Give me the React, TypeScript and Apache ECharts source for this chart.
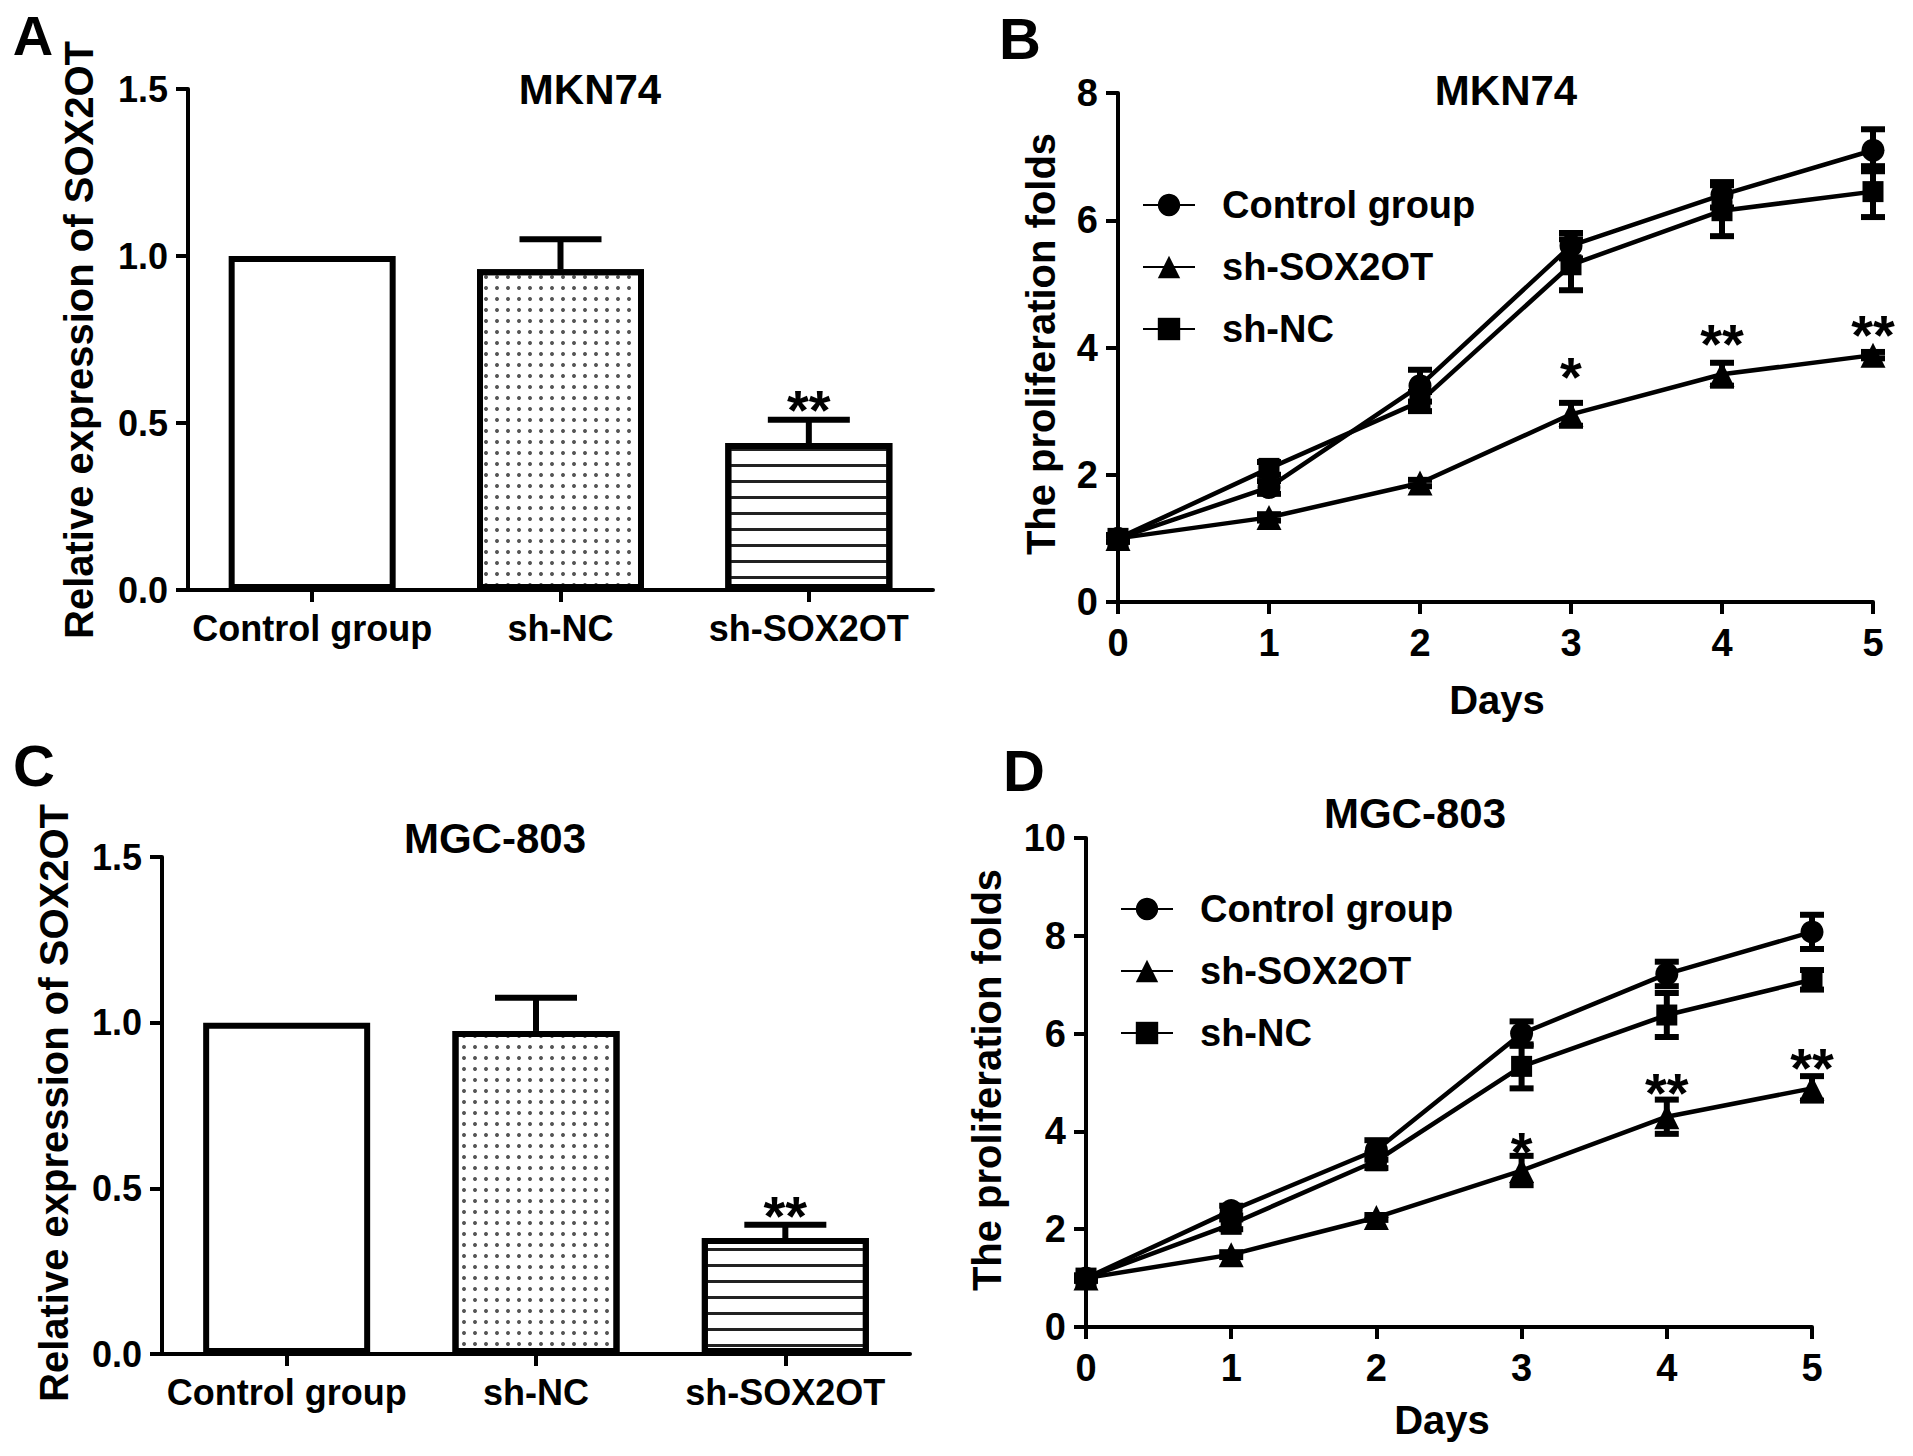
import React, { useEffect, useRef } from 'react'
import * as echarts from 'echarts'

const FONT = '"Liberation Sans", Arial, Helvetica, sans-serif'

// bar panels (A: MKN74, C: MGC-803)
const groups = ['Control group', 'sh-NC', 'sh-SOX2OT']
const exprA = [1.0, 0.96, 0.44]
const errA = [0, 0.09, 0.07]
const starA = ['', '', '**']
const starLevelA = [0, 0, 0.575]

const exprC = [1.0, 0.975, 0.35]
const errC = [0, 0.1, 0.04]
const starC = ['', '', '**']
const starLevelC = [0, 0, 0.455]

// line panels (B: MKN74, D: MGC-803)
const days = [0, 1, 2, 3, 4, 5]
const ctrlB = [1.0, 1.8, 3.4, 5.6, 6.4, 7.1]
const ctrlErrB = [0.05, 0.1, 0.25, 0.2, 0.2, 0.33]
const soxB = [1.0, 1.33, 1.87, 2.95, 3.58, 3.88]
const soxErrB = [0.05, 0.05, 0.05, 0.18, 0.18, 0.05]
const ncB = [1.0, 2.1, 3.15, 5.3, 6.15, 6.45]
const ncErrB = [0.05, 0.1, 0.15, 0.4, 0.4, 0.4]
const starB = ['', '', '', '*', '**', '**']
const starLevelB = [0, 0, 0, 3.73, 4.25, 4.4]

const ctrlD = [1.0, 2.38, 3.62, 6.0, 7.22, 8.08]
const ctrlErrD = [0.05, 0.1, 0.2, 0.25, 0.25, 0.35]
const soxD = [1.0, 1.48, 2.24, 3.2, 4.3, 4.88]
const soxErrD = [0.05, 0.05, 0.05, 0.3, 0.35, 0.25]
const ncD = [1.0, 2.1, 3.4, 5.33, 6.38, 7.1]
const ncErrD = [0.05, 0.1, 0.15, 0.45, 0.45, 0.2]
const starD = ['', '', '', '*', '**', '**']
const starLevelD = [0, 0, 0, 3.84, 5.05, 5.56]

const legendNames = ['Control group', 'sh-SOX2OT', 'sh-NC']

const dotDecal = {
  symbol: 'circle',
  symbolSize: 1,
  dashArrayX: [[3.5, 6.5]],
  dashArrayY: [3.5, 6.5],
  color: '#555',
  rotation: 0
}
const stripeDecal = {
  symbol: 'rect',
  symbolSize: 1,
  dashArrayX: [[60, 0]],
  dashArrayY: [2.5, 12.2],
  color: '#222',
  rotation: 0
}
const barDecals = [null, dotDecal, stripeDecal]

const axisLine = { show: true, lineStyle: { color: '#000', width: 4 } }
const axisTick = { show: true, length: 12, lineStyle: { color: '#000', width: 4 } }

const text = (t: string, x: number, y: number, size: number, rotate = 0) => ({
  type: 'text',
  x,
  y,
  rotation: rotate,
  style: {
    text: t,
    font: `bold ${size}px ${FONT}`,
    fill: '#000',
    align: 'center',
    verticalAlign: 'middle'
  }
})

const barXAxis = (gridIndex: number) => ({
  type: 'category',
  gridIndex,
  data: groups,
  axisLine,
  axisTick: { ...axisTick, alignWithLabel: true },
  axisLabel: { color: '#000', fontSize: 36, fontWeight: 'bold', fontFamily: FONT, margin: 20, interval: 0 }
})

const barYAxis = (gridIndex: number) => ({
  type: 'value',
  gridIndex,
  min: 0,
  max: 1.5,
  interval: 0.5,
  splitLine: { show: false },
  axisLine,
  axisTick,
  axisLabel: {
    color: '#000', fontSize: 36, fontWeight: 'bold', fontFamily: FONT, margin: 20,
    formatter: (v: number) => v.toFixed(1)
  }
})

const lineXAxis = (gridIndex: number) => ({
  type: 'value',
  gridIndex,
  min: 0,
  max: 5,
  interval: 1,
  splitLine: { show: false },
  axisLine,
  axisTick,
  axisLabel: { color: '#000', fontSize: 38, fontWeight: 'bold', fontFamily: FONT, margin: 22 }
})

const lineYAxis = (gridIndex: number, max: number) => ({
  type: 'value',
  gridIndex,
  min: 0,
  max,
  interval: 2,
  splitLine: { show: false },
  axisLine,
  axisTick,
  axisLabel: { color: '#000', fontSize: 38, fontWeight: 'bold', fontFamily: FONT, margin: 20 }
})

const barSeries = (idx: number, values: number[]) => ({
  type: 'bar',
  xAxisIndex: idx,
  yAxisIndex: idx,
  barWidth: 167,
  data: values.map((v, i) => ({
    value: v,
    itemStyle: barDecals[i] ? { decal: barDecals[i] } : {}
  })),
  itemStyle: { color: '#fff', borderColor: '#000', borderWidth: 6 },
  z: 2
})

// upward-only error bars on the bar panels
const barErrSeries = (idx: number, values: number[], errs: number[]) => ({
  type: 'custom',
  xAxisIndex: idx,
  yAxisIndex: idx,
  encode: { x: 0, y: 1 },
  data: values.map((v, i) => [i, v, errs[i]]),
  z: 3,
  renderItem: (params: any, api: any) => {
    const e = api.value(2)
    if (!e) return { type: 'group', children: [] }
    const base = api.coord([api.value(0), api.value(1)])
    const top = api.coord([api.value(0), api.value(1) + e])
    const st = { stroke: '#000', lineWidth: 6 }
    return {
      type: 'group',
      children: [
        { type: 'line', shape: { x1: base[0], y1: base[1], x2: top[0], y2: top[1] }, style: st },
        { type: 'line', shape: { x1: top[0] - 41, y1: top[1], x2: top[0] + 41, y2: top[1] }, style: st }
      ]
    }
  }
})

// symmetric error bars on the line panels
const lineErrSeries = (idx: number, values: number[], errs: number[]) => ({
  type: 'custom',
  xAxisIndex: idx,
  yAxisIndex: idx,
  encode: { x: 0, y: 1 },
  data: values.map((v, i) => [days[i], v, errs[i]]),
  z: 3,
  renderItem: (params: any, api: any) => {
    const lo = api.coord([api.value(0), api.value(1) - api.value(2)])
    const hi = api.coord([api.value(0), api.value(1) + api.value(2)])
    const st = { stroke: '#000', lineWidth: 6 }
    return {
      type: 'group',
      children: [
        { type: 'line', shape: { x1: lo[0], y1: lo[1], x2: hi[0], y2: hi[1] }, style: st },
        { type: 'line', shape: { x1: hi[0] - 12, y1: hi[1], x2: hi[0] + 12, y2: hi[1] }, style: st },
        { type: 'line', shape: { x1: lo[0] - 12, y1: lo[1], x2: lo[0] + 12, y2: lo[1] }, style: st }
      ]
    }
  }
})

const starSeries = (idx: number, xs: number[], levels: number[], marks: string[]) => ({
  type: 'custom',
  xAxisIndex: idx,
  yAxisIndex: idx,
  encode: { x: 0, y: 1 },
  data: xs.map((x, i) => [x, levels[i]]),
  z: 4,
  renderItem: (params: any, api: any) => {
    const m = marks[params.dataIndex]
    if (!m) return { type: 'group', children: [] }
    const p = api.coord([api.value(0), api.value(1)])
    return {
      type: 'text',
      x: p[0],
      y: p[1] + 12,
      style: { text: m, font: `bold 56px ${FONT}`, fill: '#000', align: 'center', verticalAlign: 'middle' }
    }
  }
})

const lineSeries = (idx: number, name: string, values: number[], symbol: string, size: number) => ({
  type: 'line',
  name,
  xAxisIndex: idx,
  yAxisIndex: idx,
  data: values.map((v, i) => [days[i], v]),
  symbol,
  symbolSize: size,
  lineStyle: { color: '#000', width: 4.5 },
  itemStyle: { color: '#000' },
  z: 2
})

const legend = (left: number, top: number) => ({
  data: legendNames,
  orient: 'vertical',
  left,
  top,
  itemWidth: 52,
  itemHeight: 28,
  itemGap: 24,
  selectedMode: false,
  textStyle: { color: '#000', fontSize: 38, fontWeight: 'bold', fontFamily: FONT, padding: [0, 0, 0, 22] }
})

const App: React.FC = () => {
  const chartRef = useRef<HTMLDivElement>(null)

  useEffect(() => {
    document.body.style.margin = '0'
    if (!chartRef.current) return
    const chart = echarts.init(chartRef.current, null, { renderer: 'svg' })

    const option = {
      animation: false,
      backgroundColor: '#fff',
      grid: [
        { left: 188, top: 89, width: 745, height: 501 },
        { left: 1118, top: 93, width: 755, height: 509 },
        { left: 162, top: 857, width: 748, height: 497 },
        { left: 1086, top: 838, width: 726, height: 489 }
      ],
      xAxis: [barXAxis(0), lineXAxis(1), barXAxis(2), lineXAxis(3)],
      yAxis: [barYAxis(0), lineYAxis(1, 8), barYAxis(2), lineYAxis(3, 10)],
      legend: [legend(1137, 181), legend(1115, 885)],
      series: [
        barSeries(0, exprA),
        barErrSeries(0, exprA, errA),
        starSeries(0, [0, 1, 2], starLevelA, starA),

        lineSeries(1, 'Control group', ctrlB, 'circle', 23),
        lineSeries(1, 'sh-SOX2OT', soxB, 'triangle', 25),
        lineSeries(1, 'sh-NC', ncB, 'rect', 21),
        lineErrSeries(1, ctrlB, ctrlErrB),
        lineErrSeries(1, soxB, soxErrB),
        lineErrSeries(1, ncB, ncErrB),
        starSeries(1, days, starLevelB, starB),

        barSeries(2, exprC),
        barErrSeries(2, exprC, errC),
        starSeries(2, [0, 1, 2], starLevelC, starC),

        lineSeries(3, 'Control group', ctrlD, 'circle', 23),
        lineSeries(3, 'sh-SOX2OT', soxD, 'triangle', 25),
        lineSeries(3, 'sh-NC', ncD, 'rect', 21),
        lineErrSeries(3, ctrlD, ctrlErrD),
        lineErrSeries(3, soxD, soxErrD),
        lineErrSeries(3, ncD, ncErrD),
        starSeries(3, days, starLevelD, starD)
      ],
      graphic: [
        text('A', 33, 35, 56),
        text('B', 1020, 38, 58),
        text('C', 34, 765, 58),
        text('D', 1024, 770, 58),
        text('MKN74', 590, 89, 42),
        text('MKN74', 1506, 90, 42),
        text('MGC-803', 495, 838, 42),
        text('MGC-803', 1415, 813, 42),
        text('Relative expression of SOX2OT', 79, 340, 40, Math.PI / 2),
        text('The proliferation folds', 1041, 344, 40, Math.PI / 2),
        text('Relative expression of SOX2OT', 54, 1103, 40, Math.PI / 2),
        text('The proliferation folds', 987, 1080, 40, Math.PI / 2),
        text('Days', 1497, 700, 40),
        text('Days', 1442, 1420, 40)
      ]
    }

    chart.setOption(option as any)
    return () => {
      chart.dispose()
    }
  }, [])

  return <div ref={chartRef} style={{ width: 1913, height: 1456 }} />
}

export default App
